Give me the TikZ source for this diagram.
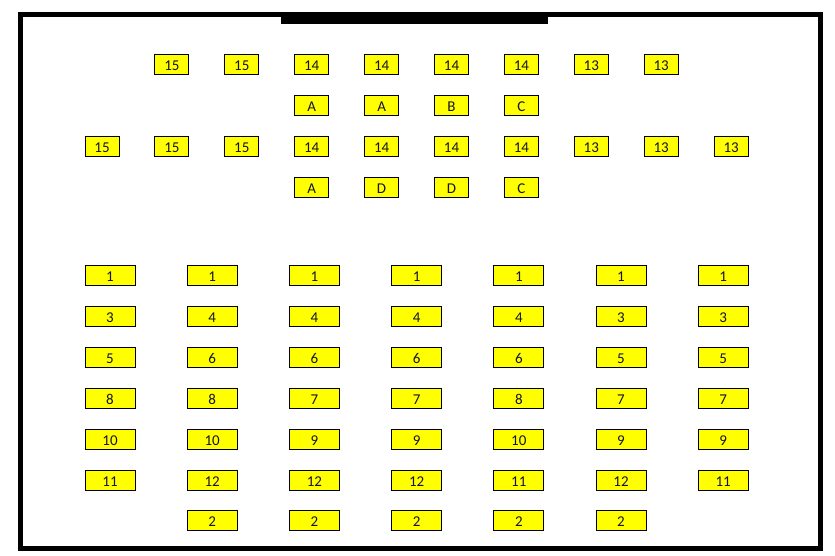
\documentclass[tikz,border=0pt]{standalone}
\usepackage{fontspec}
\setmainfont{Carlito}
\definecolor{seatyellow}{RGB}{255,255,0}
\definecolor{seattext}{RGB}{20,20,50}
\begin{document}
\begin{tikzpicture}[x=1pt,y=-1pt,
  seat/.style={draw=black, line width=1pt, fill=seatyellow, minimum height=20pt, inner sep=0pt,
    text height=12pt, text depth=0pt,
    font=\fontsize{15}{17}\selectfont, text=seattext},
  smallseat/.style={seat, minimum width=34pt},
  wideseat/.style={seat, minimum width=50pt}]
\useasboundingbox (0,0) rectangle (835,555);
% room outline and board
\draw[line width=5pt] (20.5,14.5) rectangle (820.5,548.5);
\fill[black] (281,12) rectangle (548,24);
% front group
\foreach \lab [count=\i from 2] in {15,15,14,14,14,14,13,13}
  \node[smallseat] (ta\i) at ({102+69.9*(\i-1)},64) {\lab};
\foreach \lab [count=\i from 4] in {A,A,B,C}
  \node[smallseat] (tb\i) at ({102+69.9*(\i-1)},105) {\lab};
\foreach \lab [count=\i] in {15,15,15,14,14,14,14,13,13,13}
  \node[smallseat] (tc\i) at ({102+69.9*(\i-1)},146) {\lab};
\foreach \lab [count=\i from 4] in {A,D,D,C}
  \node[smallseat] (td\i) at ({102+69.9*(\i-1)},187) {\lab};
% main group
\foreach \r/\labs in {0/{1,1,1,1,1,1,1},1/{3,4,4,4,4,3,3},2/{5,6,6,6,6,5,5},
    3/{8,8,7,7,8,7,7},4/{10,10,9,9,10,9,9},5/{11,12,12,12,11,12,11}}
  \foreach \lab [count=\i] in \labs
    \node[wideseat] (m\r-\i) at ({110+102.2*(\i-1)},{275+41*\r}) {\lab};
\foreach \lab [count=\i from 2] in {2,2,2,2,2}
  \node[wideseat] (m6-\i) at ({110+102.2*(\i-1)},520) {\lab};
\end{tikzpicture}
\end{document}
